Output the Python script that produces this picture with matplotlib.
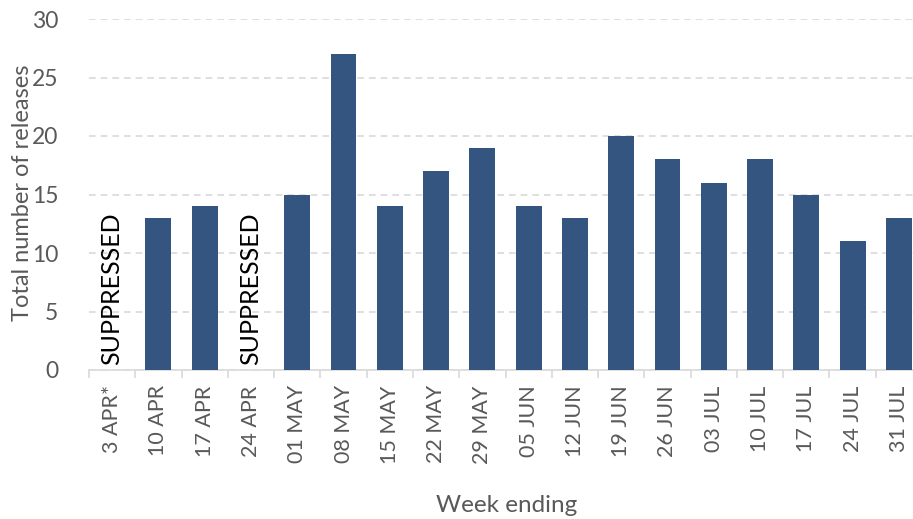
import numpy as np
import matplotlib
matplotlib.use("Agg")
import matplotlib.pyplot as plt
from matplotlib.ticker import FixedLocator

weeks = ["3 APR*", "10 APR", "17 APR", "24 APR", "01 MAY", "08 MAY", "15 MAY",
         "22 MAY", "29 MAY", "05 JUN", "12 JUN", "19 JUN", "26 JUN", "03 JUL",
         "10 JUL", "17 JUL", "24 JUL", "31 JUL"]
releases = [np.nan, 13, 14, np.nan, 15, 27, 14, 17, 19, 14, 13, 20, 18, 16,
            18, 15, 11, 13]
suppressed = [0, 3]

plt.rcParams['font.family'] = ['Lato', 'DejaVu Sans']
grey = "#595959"

fig = plt.figure(figsize=(9.13, 5.19), dpi=100)
# plot area runs slightly past the right edge, as in the reference
ax = fig.add_axes([89 / 913, 1 - 370 / 519, 833 / 913, 351 / 519])

x = np.arange(len(weeks))
ax.bar(x, np.nan_to_num(releases), width=0.56, color="#34557f", zorder=3)

for i in suppressed:
    ax.text(i, 0.4, "SUPPRESSED", rotation=90, ha="center", va="bottom",
            fontsize=18, color="black", zorder=4)

ax.set_xlim(-0.5, len(weeks) - 0.5)
ax.set_ylim(0, 30)
ax.set_yticks(range(0, 31, 5))
ax.yaxis.grid(True, color="#d9d9d9", linestyle=(0, (4, 3)), linewidth=1.2, zorder=0)

ax.set_xticks(x)
ax.set_xticklabels(weeks, rotation=90, fontsize=15.5, color=grey)
ax.xaxis.set_minor_locator(FixedLocator(np.arange(-0.5, len(weeks), 1)))
ax.tick_params(axis="x", which="major", length=0, pad=11)
ax.tick_params(axis="x", which="minor", length=6, color="#d9d9d9", width=1.2)
ax.tick_params(axis="y", length=0, labelsize=16.5, labelcolor=grey, pad=22)

for s in ["left", "right", "top"]:
    ax.spines[s].set_visible(False)
ax.spines["bottom"].set_color("#d9d9d9")
ax.spines["bottom"].set_linewidth(1.2)

fig.text(23 / 913, 1 - 193 / 519, "Total number of releases", rotation=90,
         fontsize=17, color=grey, ha="center", va="center")
fig.text(507 / 913, 1 - 505 / 519, "Week ending", fontsize=17.5, color=grey,
         ha="center", va="center")

fig.savefig("out.png", dpi=100)
